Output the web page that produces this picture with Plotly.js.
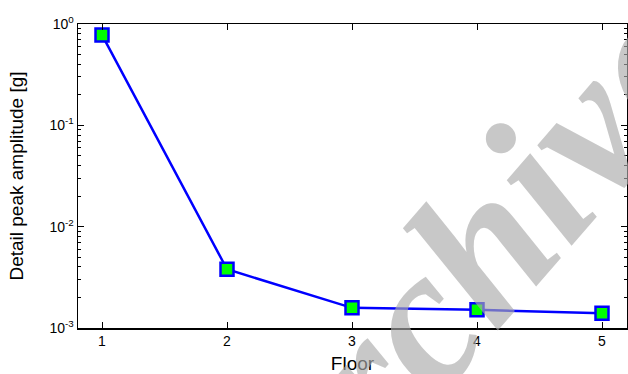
<!DOCTYPE html>
<html><head><meta charset="utf-8">
<script src="https://cdn.plot.ly/plotly-3.0.1.min.js"></script>
<style>body{margin:0;padding:0;background:#fff}#c{width:628px;height:374px}</style>
</head><body><div id="c"></div>
<script>
const floors = [1, 2, 3, 4, 5];
const amplitude = [0.78, 0.0038, 0.00158, 0.00151, 0.0014];
const yTickVals = [0.001, 0.01, 0.1, 1];
const yTickText = ['10<sup>-3</sup>', '10<sup>-2</sup>', '10<sup>-1</sup>', '10<sup>0</sup>'];
const xTickVals = [1, 2, 3, 4, 5];
const minorVals = [];
for (const d of [0.001, 0.01, 0.1]) for (let k = 2; k <= 9; k++) minorVals.push(d * k);

const font = {family: 'Liberation Sans, Arial, sans-serif', color: '#000'};
Plotly.newPlot('c', [{
  x: floors, y: amplitude, type: 'scatter', mode: 'lines+markers',
  line: {color: '#0000ff', width: 2.5},
  marker: {symbol: 'square', size: 13, color: '#00ff00', line: {color: '#0000ff', width: 2.5}}
}], {
  width: 628, height: 374,
  margin: {l: 78, r: 1, t: 24, b: 46},
  paper_bgcolor: '#fff', plot_bgcolor: '#fff',
  showlegend: false,
  font: Object.assign({size: 14}, font),
  xaxis: {
    range: [0.808, 5.2], tickvals: xTickVals, ticktext: xTickVals.map(String),
    ticks: 'inside', ticklen: 6, tickwidth: 1, tickcolor: '#000',
    showline: true, linecolor: '#000', linewidth: 1.5, mirror: 'allticks',
    showgrid: false, zeroline: false,
    tickfont: Object.assign({size: 14}, font),
    title: {text: 'Floor', font: Object.assign({size: 19}, font), standoff: 10}
  },
  yaxis: {
    type: 'log', range: [-3, 0], tickvals: yTickVals, ticktext: yTickText,
    ticks: 'inside', ticklen: 6, tickwidth: 1, tickcolor: '#000',
    minor: {tickvals: minorVals, ticks: 'inside', ticklen: 3, tickwidth: 1, tickcolor: '#000', showgrid: false},
    showline: true, linecolor: '#000', linewidth: 1.5, mirror: 'allticks',
    showgrid: false, zeroline: false,
    tickfont: Object.assign({size: 14}, font),
    title: {text: 'Detail peak amplitude [g]', font: Object.assign({size: 19}, font), standoff: 21}
  },
  annotations: [{
    xref: 'paper', yref: 'paper', x: 0.688, y: 0.168, xanchor: 'center', yanchor: 'middle', showarrow: false,
    text: '<b><i>Archive</i></b>', textangle: -49,
    font: {family: 'Liberation Serif, Times New Roman, serif', size: 200, color: 'rgba(170,170,170,0.65)'}
  }]
}, {displayModeBar: false, staticPlot: true});
</script></body></html>
